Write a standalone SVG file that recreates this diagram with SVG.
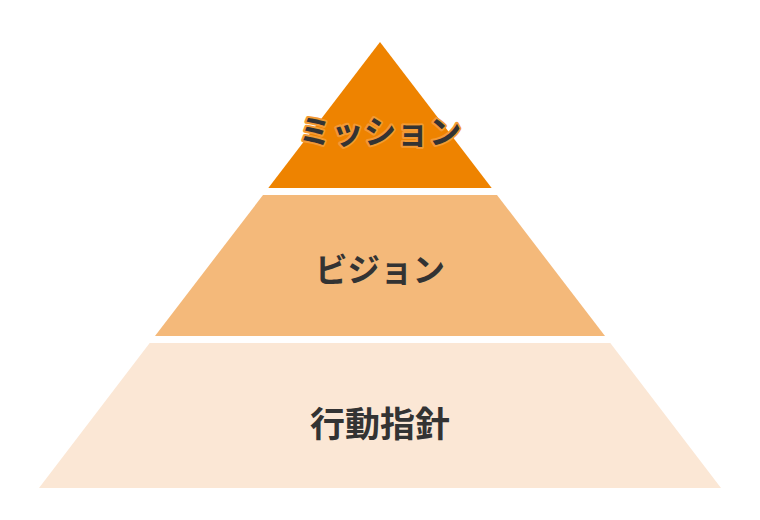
<svg xmlns="http://www.w3.org/2000/svg" width="760" height="520" viewBox="0 0 760 520">
<style>
.lbl{font-family:"Noto Sans CJK JP","Noto Sans CJK SC",sans-serif;font-weight:700;font-size:32.5px;fill:#333333;text-anchor:middle;dominant-baseline:central}
</style>
<rect width="760" height="520" fill="#ffffff"/>
<g id="layer-mission">
<polygon points="380,42 491.7,188 268.3,188" fill="#EE8300"/>
<text class="lbl" x="380" y="129" stroke="#F39A33" stroke-width="4" stroke-linejoin="round" paint-order="stroke">ミッション</text>
</g>
<g id="layer-vision">
<polygon points="263,195 497,195 605,336 155,336" fill="#F4B97A"/>
<text class="lbl" x="380" y="267">ビジョン</text>
</g>
<g id="layer-guidelines">
<polygon points="149.7,343 610.3,343 721,488 39,488" fill="#FBE7D5"/>
<text class="lbl" x="380" y="421" style="font-size:35px">行動指針</text>
</g>
<g id="connectors"/>
</svg>
